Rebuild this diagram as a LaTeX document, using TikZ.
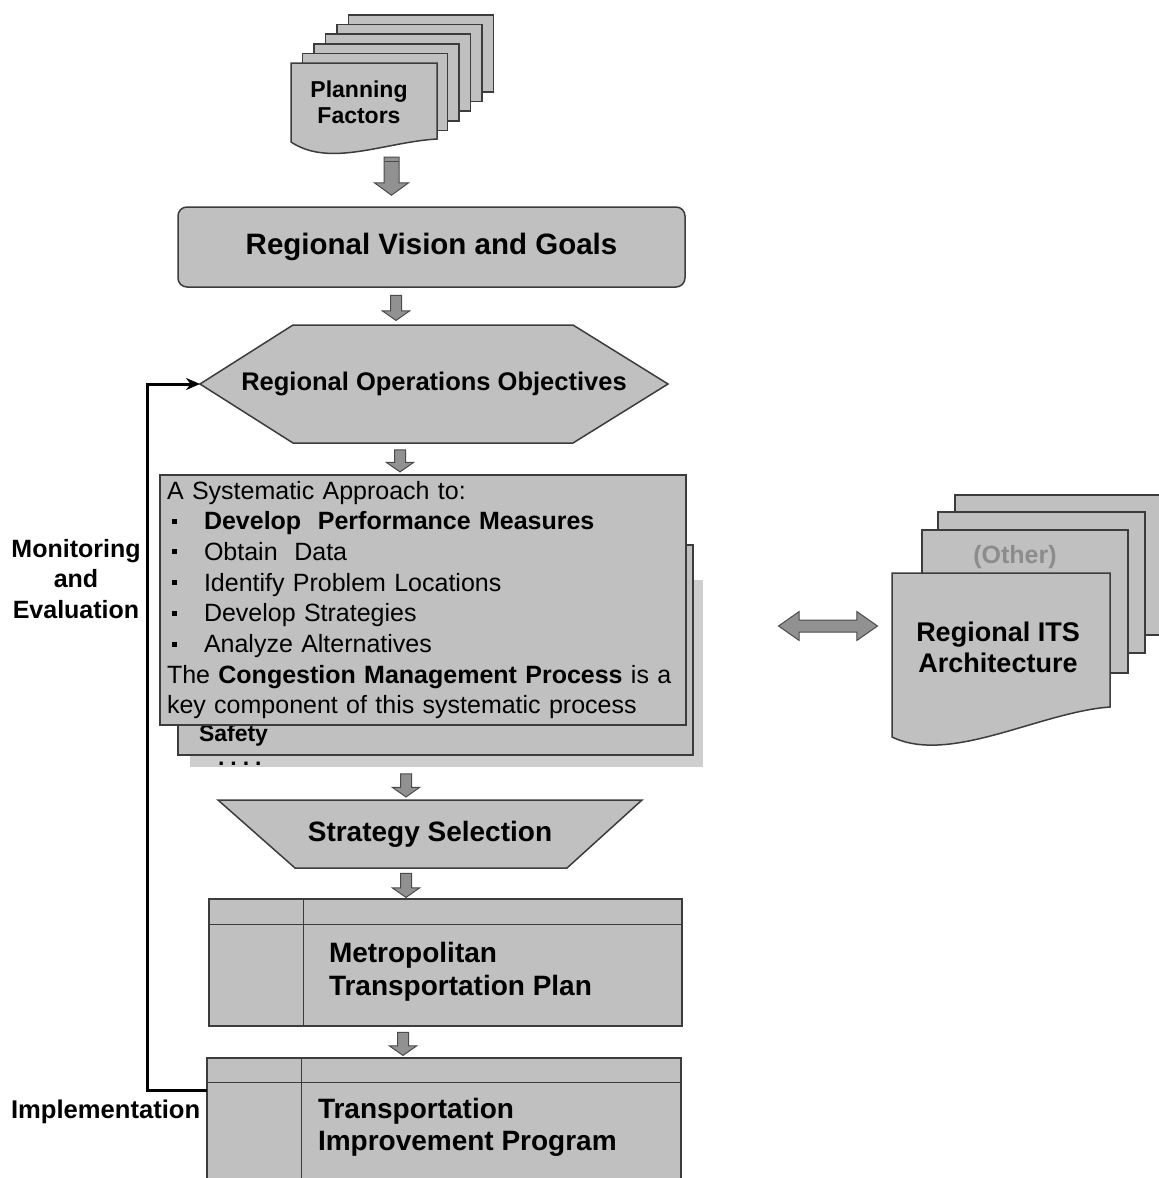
\documentclass[tikz,border=0pt]{standalone}
\usepackage{fontspec}
\setmainfont{Liberation Sans}
\usetikzlibrary{arrows.meta,calc,shapes.arrows,backgrounds}

\definecolor{boxfill}{RGB}{192,192,192}
\definecolor{boxline}{RGB}{60,60,60}
\definecolor{shadowfill}{RGB}{206,206,206}
\definecolor{arrowfill}{RGB}{145,145,145}
\definecolor{arrowline}{RGB}{75,75,75}
\definecolor{othertext}{RGB}{140,140,140}

\newcommand{\cmpitem}{\hspace*{5pt}\rule[6pt]{5pt}{5pt}\hspace*{27pt}}

\tikzset{every picture/.style={line width=1.5pt}}

\begin{document}
\begin{tikzpicture}[x=1pt,y=-1pt,
  every node/.style={outer sep=0pt},
  box/.style={draw=boxline, fill=boxfill, line width=1.5pt},
  blockarrow/.style={single arrow, draw=arrowline, fill=arrowfill, line width=1pt,
    inner sep=5pt, single arrow head extend=8pt, single arrow tip angle=110,
    single arrow head indent=0pt, minimum height=#1, rotate=-90},
  feedback/.style={line width=3pt, -{Stealth[length=14pt,width=12pt]}},
  titletext/.style={font=\fontsize{29.5}{35}\selectfont\bfseries},
  headtext/.style={font=\fontsize{25.5}{30}\selectfont\bfseries},
  steptext/.style={font=\fontsize{28}{33}\selectfont\bfseries, align=left},
  sidetext/.style={font=\fontsize{25}{30.5}\selectfont\bfseries, align=center},
  listtext/.style={font=\fontsize{25}{30.7}\selectfont},
]
\useasboundingbox (0,0) rectangle (1159,1178);

%Flowchart: Multidocument [Planning Factors]
\foreach \i in {5,4,...,1}
  \draw[box] ({291+11.5*\i},{63-9.6*\i}) rectangle ++(145,77);
\draw[box] (291,63) -- (437,63) -- (437,139) .. controls (385,142) and (330,168) .. (291,142) -- cycle;
\node[font=\fontsize{23}{26}\selectfont\bfseries, align=center, minimum width=146, minimum height=76] (factors) at (359,102) {Planning\\Factors};

%Rounded Rect [Regional Vision and Goals]
\node[box, rounded corners=9pt, minimum width=507, minimum height=80, titletext] (vision) at (431.5,247) {Regional Vision and Goals};

%Hexagon [Regional Operations Objectives]
\node[headtext, minimum width=468, minimum height=118] (objectives) at (434,384) {Regional Operations Objectives};
\begin{pgfonlayer}{background}
\draw[box] (objectives.west) -- ($(objectives.north west)+(93,0)$) -- ($(objectives.north east)+(-95,0)$)
  -- (objectives.east) -- ($(objectives.south east)+(-95,0)$) -- ($(objectives.south west)+(93,0)$) -- cycle;
\end{pgfonlayer}

%Stacked boxes [Congestion Management Process]
\node[fill=shadowfill, minimum width=513, minimum height=187] (shadow) at (446.5,673.5) {};
\node[box, minimum width=515, minimum height=210] (cmpback) at (435.5,650) {};
\node[font=\fontsize{23}{27}\selectfont\bfseries, anchor=west, inner sep=0pt] (safety) at (199,736) {Safety};
\node[font=\fontsize{23}{27}\selectfont\bfseries, anchor=west, inner sep=0pt] (dots) at (218,764) {.\hspace{6pt}.\hspace{6pt}.\hspace{6pt}.};
\node[box, minimum width=526, minimum height=250, text width=512, inner xsep=7pt, inner ysep=0pt, align=left, listtext] (cmp) at (423,600)
  {A Systematic Approach to:\\
   \cmpitem\textbf{Develop\ \ Performance Measures}\\
   \cmpitem Obtain\ \ Data\\
   \cmpitem Identify Problem Locations\\
   \cmpitem Develop Strategies\\
   \cmpitem Analyze Alternatives\\
   \mbox{The \textbf{Congestion Management Process} is a}\\
   \mbox{key component of this systematic process}};

%Trapezoid [Strategy Selection]
\node[font=\fontsize{28}{33}\selectfont\bfseries, minimum width=424, minimum height=68] (strategy) at (430,834) {Strategy Selection};
\begin{pgfonlayer}{background}
\draw[box] (strategy.north west) -- (strategy.north east) -- ($(strategy.south east)+(-75,0)$) -- ($(strategy.south west)+(77,0)$) -- cycle;
\end{pgfonlayer}

%Rect [Metropolitan Transportation Plan]
\node[box, minimum width=473, minimum height=127] (mtp) at (445.5,962.5) {};
\draw[boxline] ($(mtp.north west)+(0,25)$) -- ($(mtp.north east)+(0,25)$);
\draw[boxline] ($(mtp.north west)+(94,0)$) -- ($(mtp.south west)+(94,0)$);
\node[steptext, anchor=west, inner sep=0pt] (mtptext) at (329,972) {Metropolitan\\Transportation Plan};

%Rect [Transportation Improvement Program]
\node[box, minimum width=474, minimum height=132] (tip) at (444,1124) {};
\draw[boxline] ($(tip.north west)+(0,24)$) -- ($(tip.north east)+(0,24)$);
\draw[boxline] ($(tip.north west)+(94,0)$) -- ($(tip.south west)+(94,0)$);
\node[font=\fontsize{28}{32}\selectfont\bfseries, align=left, anchor=west, inner sep=0pt] (tiptext) at (318,1127) {Transportation\\Improvement Program};

%Block arrows
\coordinate (colA) at (394,0);
\coordinate (colB) at (396,0);
\coordinate (colC) at (400,0);
\coordinate (colD) at (406,0);
\coordinate (colE) at (403,0);
\path (colA |- factors.south) -- node[blockarrow=38, inner sep=7pt, single arrow head extend=9.5pt, single arrow tip angle=108, yshift=-2.5pt] (arrA) {} (colA |- vision.north);
\draw[arrowline, line width=1pt] ($(arrA.tail)+(-7,4)$) -- ($(arrA.tail)+(7,4)$);
\path (colB |- vision.south) -- node[blockarrow=25] (arrB) {} (colB |- objectives.north);
\path (colC |- objectives.south) -- node[blockarrow=22] (arrC) {} (colC |- cmp.north);
\path (colD |- shadow.south) -- node[blockarrow=23] (arrD) {} (colD |- strategy.north);
\path (colD |- strategy.south) -- node[blockarrow=24] (arrE) {} (colD |- mtp.north);
\path (colE |- mtp.south) -- node[blockarrow=23] (arrF) {} (colE |- tip.north);

%Feedback loop
\draw[feedback] ($(tip.north west)+(0,32)$) -- ++(-60,0) |- (objectives.west);
\node[sidetext] (monitor) at (76,579) {Monitoring\\and\\Evaluation};
\node[font=\fontsize{25.6}{30}\selectfont\bfseries, anchor=west, inner sep=0pt] (impl) at (11,1112) {Implementation};

%Flowchart: Multidocument [Regional ITS Architecture]
\foreach \l/\t/\r/\b in {955/495/1175/635, 938/512/1145/653, 922/530/1128/673}
  \draw[box] (\l,\t) rectangle (\r,\b);
\node[font=\fontsize{25}{28}\selectfont\bfseries, text=othertext] (other) at (1015,557) {(Other)};
\draw[box] (892,573) -- (1110,573) -- (1110,707) .. controls (1040,712) and (950,765) .. (892,737) -- cycle;
\node[font=\fontsize{27}{31}\selectfont\bfseries, align=center] (its) at (998,647) {Regional ITS\\Architecture};

%Double arrow
\node[double arrow, draw=arrowline, fill=arrowfill, line width=1pt, inner sep=5.5pt,
  double arrow head extend=8.5pt, double arrow tip angle=70, double arrow head indent=0pt,
  minimum height=99] (link) at (828,626) {};
\end{tikzpicture}
\end{document}
